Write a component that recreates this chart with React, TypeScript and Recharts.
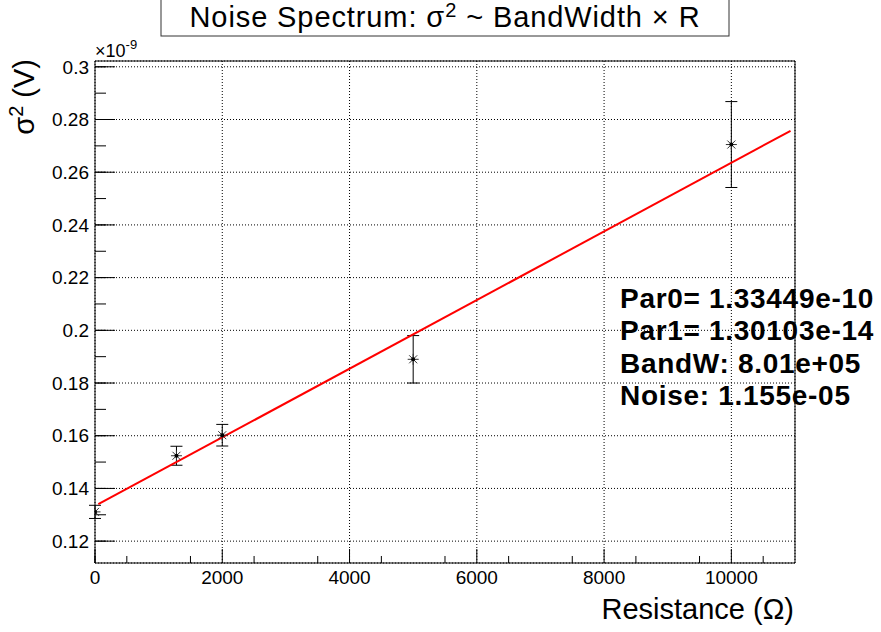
import React from "react";
import { ScatterChart, Scatter, XAxis, YAxis, CartesianGrid, ErrorBar } from "recharts";

const RESISTANCE = [0, 1280, 2000, 5000, 10000];
const SIGMA2 = [0.1311, 0.1524, 0.1602, 0.189, 0.2705];
const SIGMA2_ERR = [0.0025, 0.0036, 0.0041, 0.009, 0.0163];

const FIT_X = [52, 10930];
const FIT_Y = [0.134, 0.2757];

const X_MAJOR_TICKS = [0, 2000, 4000, 6000, 8000, 10000];
const X_MINOR_TICKS = [0, 500, 1000, 1500, 2000, 2500, 3000, 3500, 4000, 4500, 5000, 5500, 6000, 6500, 7000, 7500, 8000, 8500, 9000, 9500, 10000, 10500];
const Y_MAJOR_TICKS = [0.12, 0.14, 0.16, 0.18, 0.2, 0.22, 0.24, 0.26, 0.28, 0.3];
const Y_TICK_LABELS = ["0.12", "0.14", "0.16", "0.18", "0.2", "0.22", "0.24", "0.26", "0.28", "0.3"];
const Y_MINOR_TICKS = [0.115, 0.12, 0.125, 0.13, 0.135, 0.14, 0.145, 0.15, 0.155, 0.16, 0.165, 0.17, 0.175, 0.18, 0.185, 0.19, 0.195, 0.2, 0.205, 0.21, 0.215, 0.22, 0.225, 0.23, 0.235, 0.24, 0.245, 0.25, 0.255, 0.26, 0.265, 0.27, 0.275, 0.28, 0.285, 0.29, 0.295, 0.3];

const X_DOMAIN = [0, 11000];
const Y_DOMAIN = [0.1117, 0.3022];

const STATS_LINES = ["Par0= 1.33449e-10", "Par1= 1.30103e-14", "BandW: 8.01e+05", "Noise: 1.155e-05"];

const points = RESISTANCE.map((r, i) => ({ r, s: SIGMA2[i], e: SIGMA2_ERR[i] }));
const fit = FIT_X.map((r, i) => ({ r, s: FIT_Y[i] }));

const FONT = "'Liberation Sans', Arial, Helvetica, sans-serif";
const THIN = 0.01;

const Star = (props: any) => {
  const { cx, cy } = props;
  const r = 5.5;
  const d = 4;
  return (
    <g>
      <line x1={cx - r} y1={cy} x2={cx + r} y2={cy} stroke="#333" strokeWidth={1} />
      <line x1={cx} y1={cy - r} x2={cx} y2={cy + r} stroke="#333" strokeWidth={1} />
      <line x1={cx - d} y1={cy - d} x2={cx + d} y2={cy + d} stroke="#333" strokeWidth={1} />
      <line x1={cx - d} y1={cy + d} x2={cx + d} y2={cy - d} stroke="#333" strokeWidth={1} />
      <circle cx={cx} cy={cy} r={2} fill="#000" />
    </g>
  );
};

const NoShape = () => <g />;
const EmptyTick = () => <g />;

const yLabel = (v: number) => {
  const i = Y_MAJOR_TICKS.findIndex((t) => Math.abs(t - v) < 1e-9);
  return i >= 0 ? Y_TICK_LABELS[i] : "";
};

export default function App() {
  return (
    <div style={{ position: "absolute", left: 0, top: 0, width: 881, height: 632, background: "#fff" }}>
      <ScatterChart width={881} height={632} margin={{ top: 61, right: 86, left: 0, bottom: 0 }}>
        <CartesianGrid xAxisId="x" yAxisId="y" stroke="#000" strokeDasharray="1 2" strokeWidth={1} />
        {/* inner tick marks */}
        <XAxis xAxisId="xminor" type="number" dataKey="r" domain={X_DOMAIN} ticks={X_MINOR_TICKS} orientation="bottom" mirror height={THIN} tick={EmptyTick} axisLine={false} tickLine={{ stroke: "#000" }} tickSize={7} allowDataOverflow />
        <XAxis xAxisId="xmajor" type="number" dataKey="r" domain={X_DOMAIN} ticks={X_MAJOR_TICKS} orientation="bottom" mirror height={THIN} tick={EmptyTick} axisLine={false} tickLine={{ stroke: "#000" }} tickSize={14} allowDataOverflow />
        <YAxis yAxisId="yminor" type="number" dataKey="s" domain={Y_DOMAIN} ticks={Y_MINOR_TICKS} orientation="left" mirror width={THIN} tick={EmptyTick} axisLine={false} tickLine={{ stroke: "#000" }} tickSize={11} allowDataOverflow />
        <YAxis yAxisId="ymajor" type="number" dataKey="s" domain={Y_DOMAIN} ticks={Y_MAJOR_TICKS} orientation="left" mirror width={THIN} tick={EmptyTick} axisLine={false} tickLine={{ stroke: "#000" }} tickSize={20} allowDataOverflow />
        {/* frame */}
        <XAxis xAxisId="xtop" type="number" dataKey="r" domain={X_DOMAIN} orientation="top" height={THIN} tick={false} tickLine={false} axisLine={{ stroke: "#000" }} allowDataOverflow />
        <YAxis yAxisId="yright" type="number" dataKey="s" domain={Y_DOMAIN} orientation="right" width={THIN} tick={false} tickLine={false} axisLine={{ stroke: "#000" }} allowDataOverflow />
        {/* labelled axes */}
        <XAxis
          xAxisId="x"
          type="number"
          dataKey="r"
          domain={X_DOMAIN}
          ticks={X_MAJOR_TICKS}
          orientation="bottom"
          height={69}
          tickLine={false}
          tickSize={0}
          tickMargin={8}
          axisLine={{ stroke: "#000" }}
          tick={{ fill: "#000", fontSize: 19, fontFamily: FONT }}
          allowDataOverflow
        />
        <YAxis
          yAxisId="y"
          type="number"
          dataKey="s"
          domain={Y_DOMAIN}
          ticks={Y_MAJOR_TICKS}
          tickFormatter={yLabel}
          orientation="left"
          width={95}
          tickLine={false}
          tickSize={0}
          tickMargin={6}
          axisLine={{ stroke: "#000" }}
          tick={{ fill: "#000", fontSize: 19, fontFamily: FONT }}
          allowDataOverflow
        />
        {/* invisible series so the auxiliary axes get a domain */}
        <Scatter xAxisId="xminor" yAxisId="yminor" data={points} shape={NoShape} isAnimationActive={false} />
        <Scatter xAxisId="xmajor" yAxisId="ymajor" data={points} shape={NoShape} isAnimationActive={false} />
        <Scatter xAxisId="xtop" yAxisId="yright" data={points} shape={NoShape} isAnimationActive={false} />
        <Scatter
          xAxisId="x"
          yAxisId="y"
          data={fit}
          line={{ stroke: "#ff0000", strokeWidth: 2 }}
          lineType="joint"
          shape={NoShape}
          isAnimationActive={false}
        />
        <Scatter xAxisId="x" yAxisId="y" data={points} shape={Star} isAnimationActive={false}>
          <ErrorBar dataKey="e" direction="y" width={6} stroke="#000" strokeWidth={1} isAnimationActive={false} />
        </Scatter>
      </ScatterChart>
      <svg width={881} height={632} style={{ position: "absolute", left: 0, top: 0, pointerEvents: "none" }}>
        <rect x={161} y={-1} width={568} height={37} fill="#fff" stroke="#333" strokeWidth={1} />
        <text x={445} y={27} textAnchor="middle" fontFamily={FONT} fontSize={29} letterSpacing={0.9} fill="#000">
          Noise Spectrum: σ<tspan fontSize={20} dy={-10}>2</tspan>
          <tspan dy={10}> ~ BandWidth × R</tspan>
        </text>
        <text x={95} y={57} fontFamily={FONT} fontSize={18} fill="#000">
          ×10<tspan fontSize={13} dy={-8}>-9</tspan>
        </text>
        <text transform="translate(34,59) rotate(-90)" textAnchor="end" fontFamily={FONT} fontSize={29} fill="#000">
          σ<tspan fontSize={20} dy={-11}>2</tspan>
          <tspan dy={11}> (V)</tspan>
        </text>
        <text x={794} y={619} textAnchor="end" fontFamily={FONT} fontSize={29} fill="#000">
          Resistance (Ω)
        </text>
        {STATS_LINES.map((s, i) => (
          <text key={s} x={620} y={308 + i * 32.3} fontFamily={FONT} fontWeight="bold" fontSize={28} letterSpacing={0.7} fill="#000">
            {s}
          </text>
        ))}
      </svg>
    </div>
  );
}
